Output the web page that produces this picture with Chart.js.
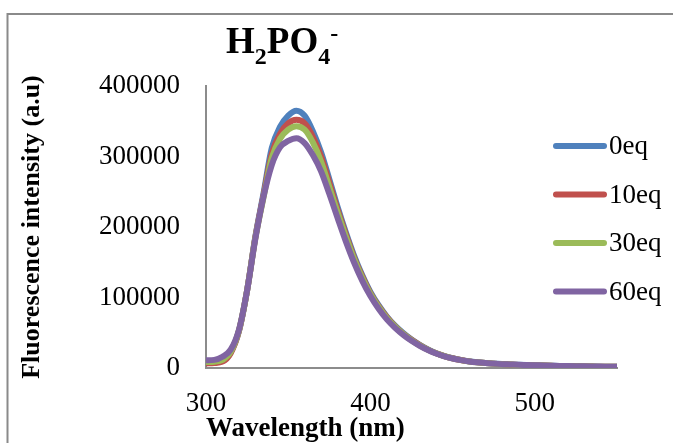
<!DOCTYPE html>
<html>
<head>
<meta charset="utf-8">
<script src="https://cdn.jsdelivr.net/npm/chart.js@4.4.0/dist/chart.umd.min.js"></script>
<style>
  body { margin: 0; background: #fff; }
  canvas { display: block; }
</style>
</head>
<body>
<canvas id="myChart" width="673" height="443"></canvas>
<script>
// wavelength (nm), read every 5 nm off the picture
const wavelengths = [300, 305, 310, 315, 320, 325, 330, 335, 340, 345,
  350, 355, 360, 365, 370, 375, 380, 385, 390, 395,
  400, 405, 410, 415, 420, 425, 430, 435, 440, 445,
  450, 455, 460, 465, 470, 475, 480, 485, 490, 495,
  500, 505, 510, 515, 520, 525, 530, 535, 540, 545, 550];

const eq0 = [7500, 8000, 10000, 22000, 52000, 110000, 186000, 248000, 312000, 342000,
  358000, 365000, 358000, 336000, 306000, 268000, 229000, 193000, 160000, 132000,
  108000, 89000, 73000, 60000, 49500, 40500, 33000, 26500, 21000, 17000,
  14000, 11500, 9600, 8200, 7100, 6300, 5600, 5000, 4500, 4100,
  3800, 3500, 3200, 2900, 2700, 2500, 2300, 2100, 1900, 1800, 1700];

const eq10 = [6500, 7000, 9000, 21000, 52000, 110000, 185000, 245000, 304000, 332000,
  347000, 352000, 347000, 328000, 300000, 263000, 225000, 190000, 157000, 130000,
  106000, 87500, 72000, 59000, 48500, 40000, 32500, 26000, 21000, 17000,
  13800, 11300, 9400, 8000, 7000, 6200, 5500, 4900, 4400, 4000,
  3700, 3400, 3100, 2800, 2600, 2400, 2200, 2000, 1800, 1700, 1600];

const eq30 = [8500, 9000, 11500, 23000, 53000, 110000, 184000, 242000, 298000, 325000,
  338000, 343000, 338000, 320000, 293000, 257000, 221000, 187000, 155000, 128000,
  105000, 86500, 71000, 58500, 48000, 39500, 32000, 26000, 21000, 16800,
  13600, 11200, 9300, 8000, 7000, 6200, 5500, 4900, 4400, 4000,
  3700, 3400, 3100, 2800, 2600, 2400, 2200, 2000, 1900, 1800, 1700];

const eq60 = [11000, 11500, 16000, 26000, 54000, 110000, 183000, 243000, 288000, 313000,
  322000, 326000, 319000, 302000, 279000, 247000, 213000, 180000, 150000, 124000,
  102000, 84000, 69000, 57000, 47000, 38500, 31500, 25500, 20500, 16500,
  13500, 11200, 9300, 8000, 7000, 6200, 5500, 5000, 4500, 4200,
  3900, 3600, 3300, 3000, 2800, 2600, 2400, 2200, 2000, 1900, 1800];

const seriesLabels = ['0eq', '10eq', '30eq', '60eq'];
const seriesColors = ['#4F81BD', '#C0504D', '#9BBB59', '#8064A2'];
const xTicks = [300, 400, 500];
const yTicks = [0, 100000, 200000, 300000, 400000];

const serif = '"Liberation Serif", "Times New Roman", serif';

function points(vals) {
  return wavelengths.map((w, i) => ({ x: w, y: vals[i] }));
}

// gray frame, only left and top edges are inside the picture
const framePlugin = {
  id: 'frame',
  beforeDraw(chart) {
    const ctx = chart.ctx;
    ctx.save();
    ctx.strokeStyle = '#8a8a8a';
    ctx.lineWidth = 2;
    ctx.beginPath();
    ctx.moveTo(7.5, chart.height);
    ctx.lineTo(7.5, 14);
    ctx.lineTo(chart.width, 14);
    ctx.stroke();
    ctx.restore();
  }
};

// H2PO4- title with sub/superscripts
const titlePlugin = {
  id: 'formulaTitle',
  afterDraw(chart) {
    const ctx = chart.ctx;
    const parts = [
      { t: 'H', s: 37, dy: 0 },
      { t: '2', s: 24, dy: 11 },
      { t: 'PO', s: 37, dy: 0 },
      { t: '4', s: 24, dy: 11 },
      { t: '-', s: 24, dy: -12 }
    ];
    let x = 226;
    const base = 53;
    ctx.save();
    ctx.fillStyle = '#000';
    ctx.textBaseline = 'alphabetic';
    parts.forEach(p => {
      ctx.font = 'bold ' + p.s + 'px ' + serif;
      ctx.fillText(p.t, x, base + p.dy);
      x += ctx.measureText(p.t).width;
    });
    ctx.restore();
  }
};

// legend sits on the right, over the empty part of the plot
const legendPlugin = {
  id: 'sideLegend',
  afterDraw(chart) {
    const ctx = chart.ctx;
    ctx.save();
    ctx.font = '27px ' + serif;
    ctx.textBaseline = 'middle';
    chart.data.datasets.forEach((ds, i) => {
      const y = 146 + i * 48.5;
      ctx.strokeStyle = ds.borderColor;
      ctx.lineWidth = 6;
      ctx.lineCap = 'round';
      ctx.beginPath();
      ctx.moveTo(556, y);
      ctx.lineTo(604, y);
      ctx.stroke();
      ctx.fillStyle = '#000';
      ctx.fillText(ds.label, 609, y + 1);
    });
    ctx.restore();
  }
};

const allSeries = [eq0, eq10, eq30, eq60];

new Chart(document.getElementById('myChart'), {
  type: 'line',
  data: {
    datasets: allSeries.map((vals, i) => ({
      label: seriesLabels[i],
      data: points(vals),
      borderColor: seriesColors[i],
      backgroundColor: seriesColors[i],
      borderWidth: 6,
      pointRadius: 0,
      cubicInterpolationMode: 'monotone',
      order: allSeries.length - i
    }))
  },
  options: {
    responsive: false,
    animation: false,
    layout: { padding: { top: 86, right: 56, bottom: 0, left: 0 } },
    plugins: {
      legend: { display: false },
      title: { display: false },
      tooltip: { enabled: false }
    },
    scales: {
      x: {
        type: 'linear',
        min: 300,
        max: 550,
        afterBuildTicks: s => { s.ticks = xTicks.map(v => ({ value: v })); },
        afterFit: s => { s.height = 75; },
        grid: { display: false, drawTicks: false },
        border: { display: true, color: '#8c8c8c', width: 2 },
        ticks: {
          color: '#000',
          padding: 20,
          maxRotation: 0,
          font: { family: serif, size: 27 },
          callback: v => String(v)
        },
        title: {
          display: true,
          text: 'Wavelength (nm)',
          align: 'start',
          color: '#000',
          padding: { top: 0, bottom: 0 },
          font: { family: serif, size: 27, weight: 'bold', lineHeight: 1 }
        }
      },
      y: {
        min: 0,
        max: 400000,
        afterBuildTicks: s => { s.ticks = yTicks.map(v => ({ value: v })); },
        afterFit: s => { s.width = 206; },
        grid: { display: false, drawTicks: false },
        border: { display: true, color: '#8c8c8c', width: 2 },
        ticks: {
          color: '#000',
          padding: 26,
          font: { family: serif, size: 27 },
          callback: v => String(v)
        },
        title: {
          display: true,
          text: 'Fluorescence intensity (a.u)',
          color: '#000',
          padding: { top: 19, bottom: 0 },
          font: { family: serif, size: 26, weight: 'bold', lineHeight: 1 }
        }
      }
    }
  },
  plugins: [framePlugin, titlePlugin, legendPlugin]
});
</script>
</body>
</html>
